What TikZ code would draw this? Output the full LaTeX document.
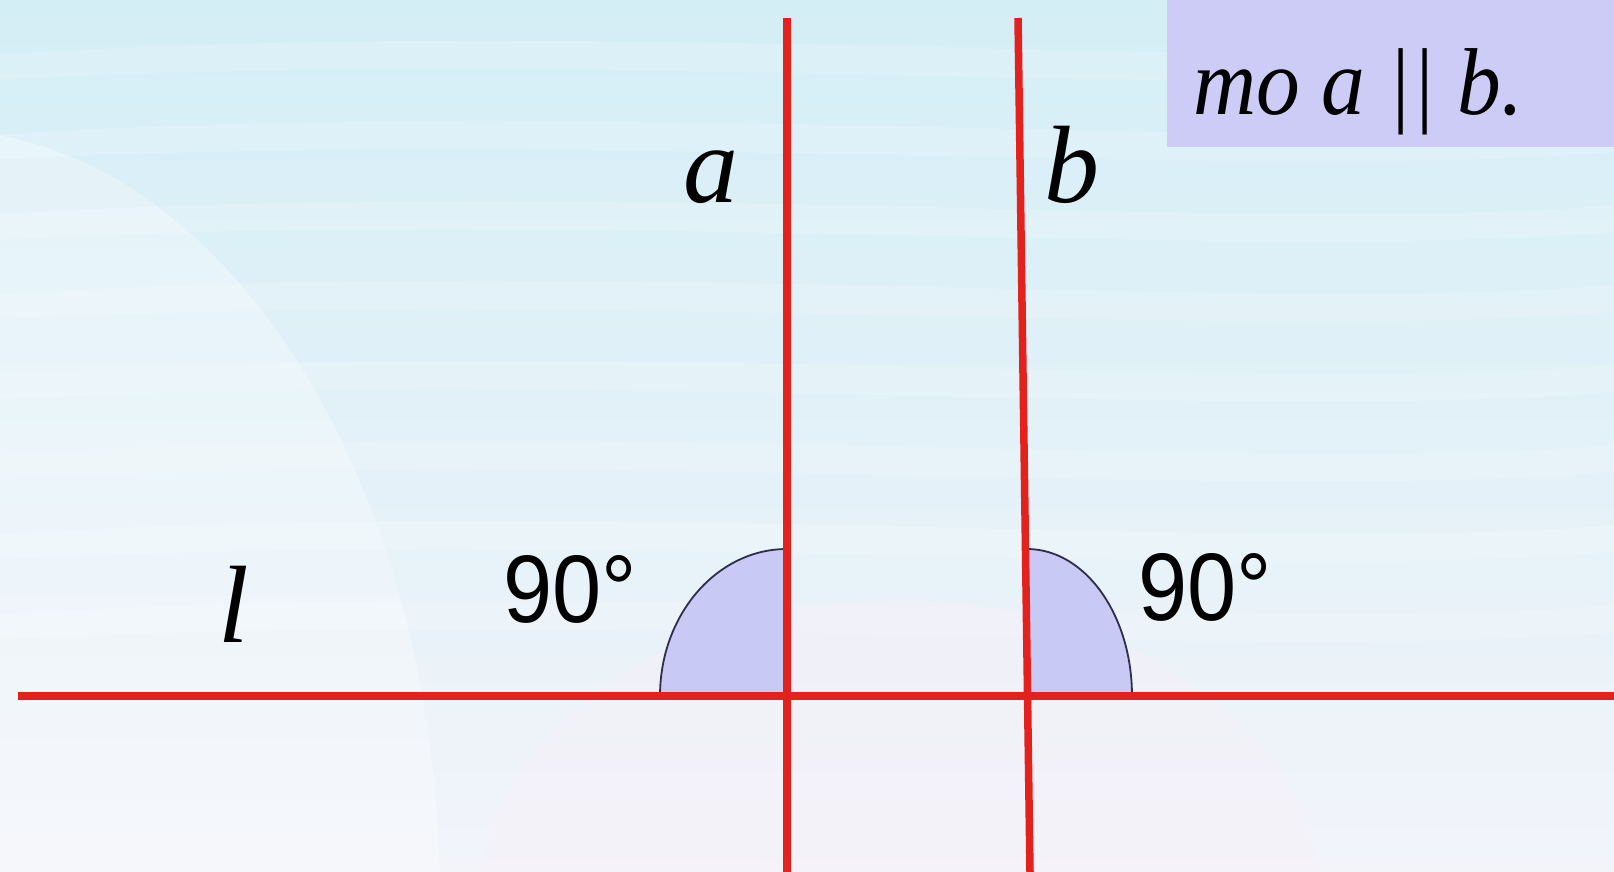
\documentclass[tikz,border=0pt]{standalone}
\usepackage{fontspec}
\setmainfont{Liberation Serif}
\newfontfamily\sansf{Liberation Sans}
\usetikzlibrary{shadings}
\definecolor{bgtop}{HTML}{D4EEF6}
\definecolor{bgbot}{HTML}{F2F4FA}
\definecolor{lineRed}{HTML}{E3221E}
\definecolor{angFill}{HTML}{C9C9F5}
\definecolor{angEdge}{HTML}{2E2E4A}
\definecolor{boxFill}{HTML}{CCCCF7}
\definecolor{pinkish}{HTML}{FBEFF8}
\tikzset{
  redline/.style={draw=lineRed, line width=8pt},
  angarc/.style={fill=angFill, draw=angEdge, line width=1.8pt},
  lbl/.style={inner sep=0pt, anchor=base, font=\fontsize{110}{110}\selectfont\itshape},
  deg/.style={inner sep=0pt, anchor=base, font=\fontsize{96}{96}\selectfont\sansf},
  streak/.style={fill=white, opacity=0.16}
}
\begin{document}
\begin{tikzpicture}[x=1pt,y=-1pt]
\useasboundingbox (0,0) rectangle (1614,872);
% background
\shade[top color=bgtop, bottom color=bgbot] (0,0) rectangle (1614,872);
\fill[pinkish, opacity=0.35] (900,900) ellipse [x radius=420pt, y radius=300pt];
\foreach \yy in {40,120,200,280,360,440,520,600}{
  \fill[streak] (-10,\yy+15) .. controls (600,\yy-25) and (1250,\yy+35) .. (1614,\yy+5)
     -- (1614,\yy+32) .. controls (1250,\yy+62) and (600,\yy+8) .. (-10,\yy+40) -- cycle;
}
\fill[white, opacity=0.3] (-60,900) ellipse [x radius=500pt, y radius=770pt];
% box
\fill[boxFill] (1167,0) rectangle (1614,147);
\node[inner sep=0pt, anchor=base west, font=\fontsize{95}{95}\selectfont\itshape] (txt) at (1193,115) {\scalebox{0.92}[1]{mo a || b.}};
% coordinates
\coordinate (lL) at (18,696);
\coordinate (lR) at (1614,696);
\coordinate (aT) at (787,18);
\coordinate (aB) at (787,872);
\coordinate (bT) at (1018,18);
\coordinate (bB) at (1030,872);
\coordinate (A) at (787,696);
\coordinate (B) at (1027.5,696);
% angle arcs
\path[angarc] (A) -- (660,696) arc[start angle=180, end angle=90, x radius=127pt, y radius=147pt] -- cycle;
\path[angarc] (B) -- (1132,696) arc[start angle=0, end angle=90, x radius=105pt, y radius=147pt] -- cycle;
% lines
\draw[redline] (lL) -- (lR);
\draw[redline, line width=7.5pt] (aT) -- (aB);
\draw[redline, line width=7.5pt] (bT) -- (bB);
% labels
\node[lbl] (la) at (711,202) {a};
\node[lbl] (lb) at (1072,202) {b};
\node[lbl] (ll) at (234,642) {l};
\node[deg] (d1) at (570,622) {\scalebox{0.92}[1]{90°}};
\node[deg] (d2) at (1205,620) {\scalebox{0.92}[1]{90°}};
\end{tikzpicture}
\end{document}
